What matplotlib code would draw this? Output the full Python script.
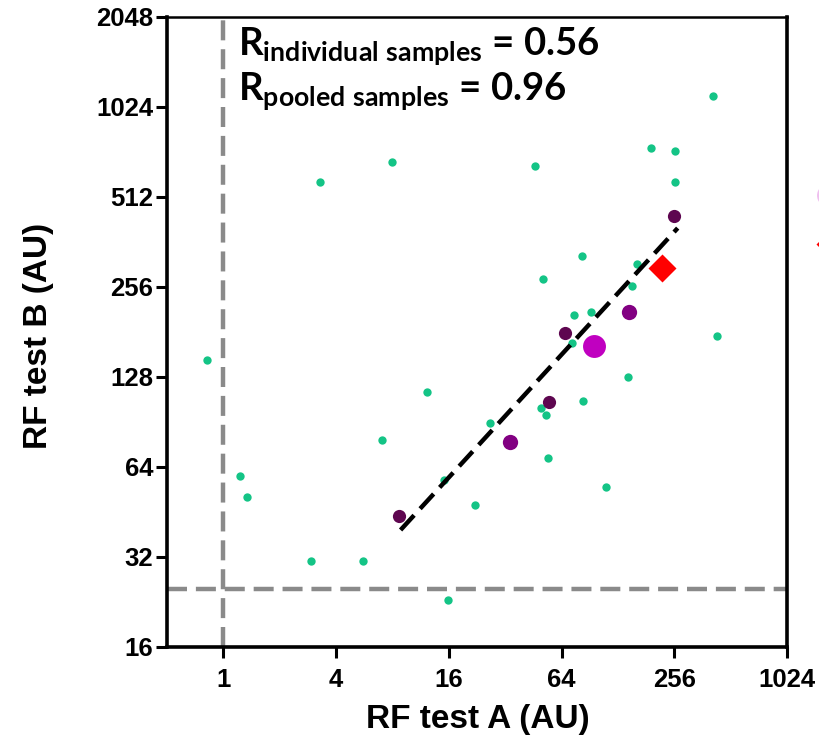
import matplotlib
matplotlib.use("Agg")
import matplotlib.pyplot as plt
from matplotlib.lines import Line2D
from matplotlib.ticker import FixedLocator, FixedFormatter

# individual samples (green)
green_x = [412, 192, 258, 8.0, 46, 3.3, 258, 82, 51, 162, 152, 75, 92, 73, 433,
           0.82, 145, 83, 12.2, 49.5, 53, 26.4, 7.0, 54, 1.22, 1.33, 15, 22, 110,
           2.95, 5.6, 15.8]
green_y = [1114, 747, 730, 670, 650, 575, 575, 325, 272, 306, 258, 206, 211, 166, 176,
           146, 128, 106, 114, 101, 95.5, 90, 79, 68.6, 59.7, 50.8, 57.9, 47.8, 54.9,
           31, 31, 23]

# pooled samples, by group
dark_x = [255, 67, 55, 8.7]
dark_y = [442, 180, 105.6, 43.9]
purple_x = [146, 34]
purple_y = [211, 77.6]
magenta_x = [95]
magenta_y = [162]
ref_x = [220]
ref_y = [296]

# regression line of the pooled samples
fit_x = [8.84, 267]
fit_y = [39.4, 403]

# cut-off values
cut_x = 1
cut_y = 25

ticks_x = [1, 4, 16, 64, 256, 1024]
ticks_y = [16, 32, 64, 128, 256, 512, 1024, 2048]

r_individual = 0.56
r_pooled = 0.96

plt.rcParams['font.family'] = ['Liberation Sans', 'DejaVu Sans']
plt.rcParams['font.weight'] = 'bold'
plt.rcParams['mathtext.fontset'] = 'custom'
plt.rcParams['mathtext.rm'] = 'Lato:bold'
plt.rcParams['mathtext.it'] = 'Lato:bold'
plt.rcParams['mathtext.bf'] = 'Lato:bold'

fig = plt.figure(figsize=(8.19, 7.39), dpi=100)
ax = fig.add_axes([167 / 819, 1 - 647 / 739, 620 / 819, 630 / 739])

ax.set_xscale('log', base=2)
ax.set_yscale('log', base=2)
ax.set_xlim(0.5, 1024)
ax.set_ylim(16, 2048)

dash = (4.5, 2.0)
ax.axvline(cut_x, color='#8a8a8a', lw=3.2, dashes=dash, zorder=1)
ax.axhline(cut_y, color='#8a8a8a', lw=3.2, dashes=dash, zorder=1)

ax.plot(green_x, green_y, 'o', color='#14c486', ms=6, mec='none', zorder=3)
ax.plot(fit_x, fit_y, color='black', lw=3.2, dashes=dash, zorder=4)
ax.plot(dark_x, dark_y, 'o', color='#5e0650', ms=9.5, mec='none', zorder=5)
ax.plot(purple_x, purple_y, 'o', color='#820082', ms=11, mec='none', zorder=5)
ax.plot(magenta_x, magenta_y, 'o', color='#c000c0', ms=16.5, mec='none', zorder=5)
ax.plot(ref_x, ref_y, 'D', color='#ff0000', ms=14, mec='none', zorder=5)

ax.xaxis.set_major_locator(FixedLocator(ticks_x))
ax.xaxis.set_major_formatter(FixedFormatter([str(t) for t in ticks_x]))
ax.yaxis.set_major_locator(FixedLocator(ticks_y))
ax.yaxis.set_major_formatter(FixedFormatter([str(t) for t in ticks_y]))
ax.minorticks_off()
ax.tick_params(axis='both', which='major', length=8, width=2.2, labelsize=18.5)
ax.tick_params(axis='x', pad=7)
ax.tick_params(axis='y', pad=2)
for lab in ax.get_xticklabels() + ax.get_yticklabels():
    lab.set_fontweight('bold')

for side in ['left', 'bottom', 'right']:
    ax.spines[side].set_linewidth(2.6)
ax.spines['top'].set_linewidth(1.8)

ax.set_xlabel('RF test A (AU)', fontsize=24, fontweight='bold', va='top')
ax.set_ylabel('RF test B (AU)', fontsize=24, fontweight='bold')
ax.xaxis.set_label_coords(0.502, -0.090)
ax.yaxis.set_label_coords(-0.182, 0.494)

ax.text(0.1145, 0.9397, r'$\mathrm{R_{individual\ samples}}$' + ' = %.2f' % r_individual,
        transform=ax.transAxes, fontsize=27.5, family='Lato', fontweight='bold',
        va='baseline', ha='left', zorder=6)
ax.text(0.1145, 0.868, r'$\mathrm{R_{pooled\ samples}}$' + ' = %.2f' % r_pooled,
        transform=ax.transAxes, fontsize=27.5, family='Lato', fontweight='bold',
        va='baseline', ha='left', zorder=6)

# legend markers sit just past the right edge of the picture, as in the original crop
handles = [Line2D([], [], ls='none', marker='o', color='#c000c0', ms=16.5, mec='none', alpha=0.25),
           Line2D([], [], ls='none', marker='D', color='#ff0000', ms=12, mec='none')]
fig.legend(handles, ['', ''], loc='upper left',
           bbox_to_anchor=(0.968, 1 - 175 / 739), frameon=False, fontsize=18,
           handletextpad=0.3, labelspacing=1.0, borderaxespad=0)

fig.savefig('out.png', dpi=100)
